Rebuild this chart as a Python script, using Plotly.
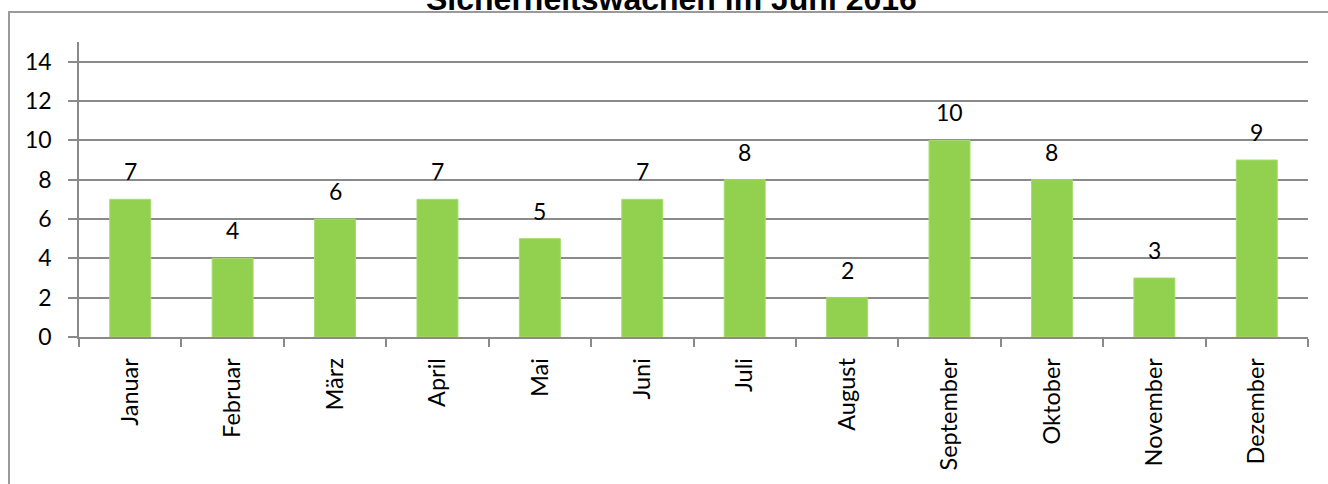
import plotly.graph_objects as go

months = ["Januar", "Februar", "März", "April", "Mai", "Juni", "Juli",
          "August", "September", "Oktober", "November", "Dezember"]
values = [7, 4, 6, 7, 5, 7, 8, 2, 10, 8, 3, 9]
title_text = "Sicherheitswachen im Juni 2016"
y_ticks = [0, 2, 4, 6, 8, 10, 12, 14]

W, H = 1328, 484
L, R, T, B = 79, 20, 42, 147
pw, ph = W - L - R, H - T - B

def px_x(sx):
    return (sx - L) / pw

def px_y(sy):
    return (H - B - sy) / ph

grid_col = "#8a8a8a"
font_fam = "Lato, 'Open Sans', sans-serif"

fig = go.Figure()
fig.add_trace(go.Bar(
    x=months, y=values,
    marker=dict(color="#92D050", line=dict(color="#a6dc6e", width=1)),
    cliponaxis=False,
))

for m, v in zip(months, values):
    fig.add_annotation(x=m, y=v, xref="x", yref="y", text=str(v),
                       showarrow=False, yanchor="bottom", yshift=12,
                       font=dict(family=font_fam, size=23, color="#000000"))

fig.update_layout(
    width=W, height=H,
    margin=dict(l=L, r=R, t=T, b=B),
    paper_bgcolor="white", plot_bgcolor="white",
    bargap=0.6,
    showlegend=False,
    font=dict(family=font_fam, size=23, color="#000000"),
)
fig.update_xaxes(
    type="category",
    tickson="boundaries",
    ticks="outside", ticklen=8, tickwidth=1.5, tickcolor=grid_col,
    showline=True, linecolor=grid_col, linewidth=1.5,
    tickangle=-90,
    tickfont=dict(family=font_fam, size=23.5),
    ticklabelstandoff=10,
    showgrid=False,
)
fig.update_yaxes(
    range=[0, 15],
    tickvals=y_ticks,
    ticks="outside", ticklen=9, tickwidth=1.5, tickcolor=grid_col,
    showline=True, linecolor=grid_col, linewidth=1.5,
    showgrid=True, gridcolor=grid_col, gridwidth=1.5,
    zeroline=False,
    tickfont=dict(family=font_fam, size=23),
    ticklabelstandoff=12,
)

# outer chart frame (partially outside the visible canvas)
fig.add_shape(type="rect", xref="paper", yref="paper",
              x0=px_x(9), x1=px_x(W + 20), y0=px_y(H + 20), y1=px_y(12),
              line=dict(color="#9a9a9a", width=2), fillcolor="rgba(0,0,0,0)",
              layer="below")

# title, mostly cut off at the top
fig.add_annotation(text="<b>" + title_text + "</b>", xref="paper", yref="paper",
                   x=px_x(671), y=px_y(19), xanchor="center", yanchor="bottom",
                   showarrow=False,
                   font=dict(family="'Liberation Sans', Arial, sans-serif", size=32, color="#000000"))

fig.write_html("out.html", config={"displayModeBar": False},
               post_script="document.body.style.margin='0px';")
